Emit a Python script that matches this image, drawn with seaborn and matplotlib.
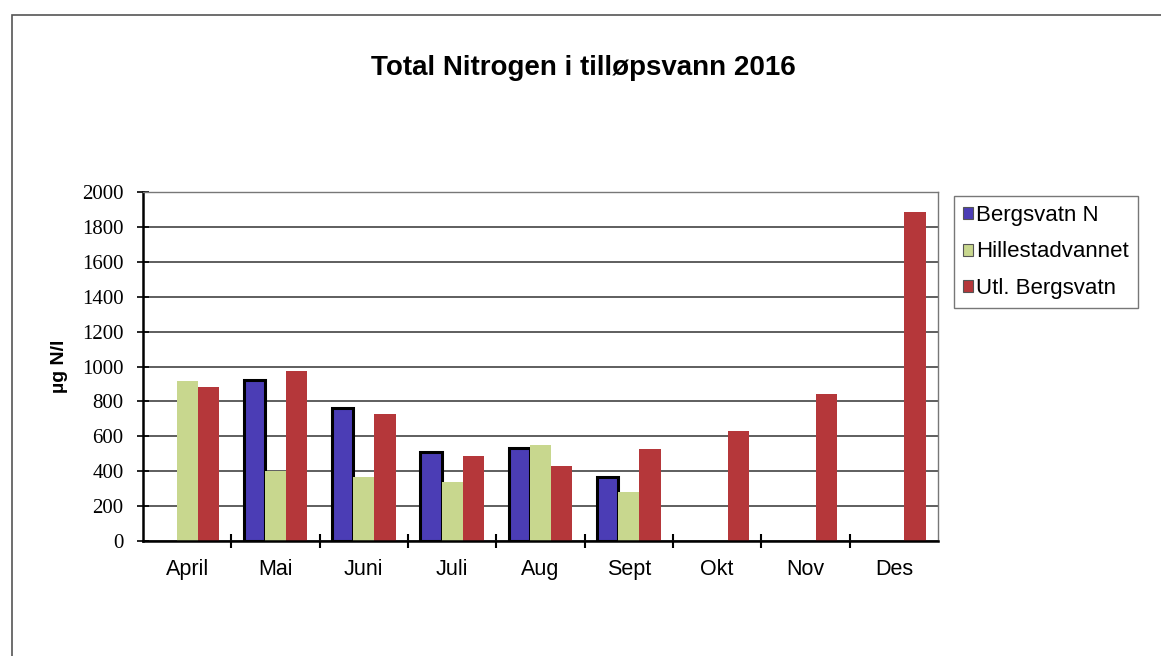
import matplotlib
matplotlib.use("Agg")
import matplotlib.pyplot as plt
import seaborn as sns
import pandas as pd
import numpy as np
from matplotlib.patches import Rectangle
from matplotlib.ticker import FixedLocator

months = ["April", "Mai", "Juni", "Juli", "Aug", "Sept", "Okt", "Nov", "Des"]
series = ["Bergsvatn N", "Hillestadvannet", "Utl. Bergsvatn"]
bergsvatn_n = [np.nan, 920, 760, 510, 535, 365, np.nan, np.nan, np.nan]
hillestad = [915, 400, 365, 340, 550, 280, np.nan, np.nan, np.nan]
utl_bergsvatn = [880, 975, 725, 485, 430, 530, 630, 840, 1885]
colors = ["#4B3DB5", "#C8D78E", "#B5373A"]
yticks = list(range(0, 2001, 200))

rows = []
for s, vals in zip(series, [bergsvatn_n, hillestad, utl_bergsvatn]):
    for m, v in zip(months, vals):
        if not np.isnan(v):
            rows.append({"Måned": m, "Serie": s, "Verdi": v})
df = pd.DataFrame(rows)

sns.set_style("white")
plt.rcParams["font.family"] = ["Liberation Sans", "DejaVu Sans"]
plt.rcParams["text.color"] = "black"
plt.rcParams["axes.labelcolor"] = "black"
plt.rcParams["xtick.color"] = "black"
plt.rcParams["ytick.color"] = "black"

fig = plt.figure(figsize=(11.61, 6.56), dpi=100)
ax = fig.add_axes([143/1161, 1-541/656, (938-143)/1161, (541-192)/656])

sns.barplot(data=df, x="Måned", y="Verdi", hue="Serie", order=months,
            hue_order=series, palette=colors, width=0.72, saturation=1,
            errorbar=None, ax=ax, legend=True)

for bar in ax.containers[0]:
    bar.set_edgecolor("black")
    bar.set_linewidth(2.2)
for c in ax.containers[1:]:
    for bar in c:
        bar.set_linewidth(0)

ax.set_ylim(0, 2000)
ax.set_xlim(-0.5, len(months) - 0.5)
ax.set_yticks(yticks)
ax.set_yticklabels([str(t) for t in yticks], fontfamily="Liberation Serif", fontsize=15)
ax.yaxis.grid(True, color="#333333", linewidth=1.1)
ax.set_axisbelow(True)
ax.tick_params(axis="y", direction="inout", length=8, width=1.2, color="black",
               left=True, pad=10)
ax.set_xticks(range(len(months)))
ax.set_xticklabels(months, fontsize=15.5)
ax.tick_params(axis="x", length=0, pad=13)
ax.xaxis.set_minor_locator(FixedLocator([k + 0.5 for k in range(len(months) - 1)]))
ax.tick_params(axis="x", which="minor", direction="inout", length=10, width=1.5,
               color="black", bottom=True)

for side in ["left", "bottom"]:
    ax.spines[side].set_color("black")
    ax.spines[side].set_linewidth(1.8)
for side in ["top", "right"]:
    ax.spines[side].set_color("#777777")
    ax.spines[side].set_linewidth(1.0)

ax.set_xlabel("")
ax.set_ylabel("µg N/l", fontsize=14, fontweight="bold", labelpad=10)

leg = ax.legend(loc="upper left", bbox_to_anchor=(954/1161, 1-196/656),
                bbox_transform=fig.transFigure, fontsize=16, frameon=True,
                fancybox=False, edgecolor="#555555", handlelength=0.45,
                handleheight=0.45, handletextpad=0.15, labelspacing=0.7,
                borderpad=0.4, borderaxespad=0)
leg.get_frame().set_linewidth(1.0)
for h in leg.legend_handles:
    h.set_linewidth(0.8)
    h.set_edgecolor("#555555")

fig.text(583/1161, 1-68/656, "Total Nitrogen i tilløpsvann 2016", ha="center",
         va="center", fontsize=20, fontweight="bold")

fig.patches.append(Rectangle((12/1161, -0.05), 1.2, 1-15/656 + 0.05,
                             transform=fig.transFigure, fill=False,
                             edgecolor="#555555", linewidth=1.2, figure=fig))

fig.savefig("out.png", dpi=100)
